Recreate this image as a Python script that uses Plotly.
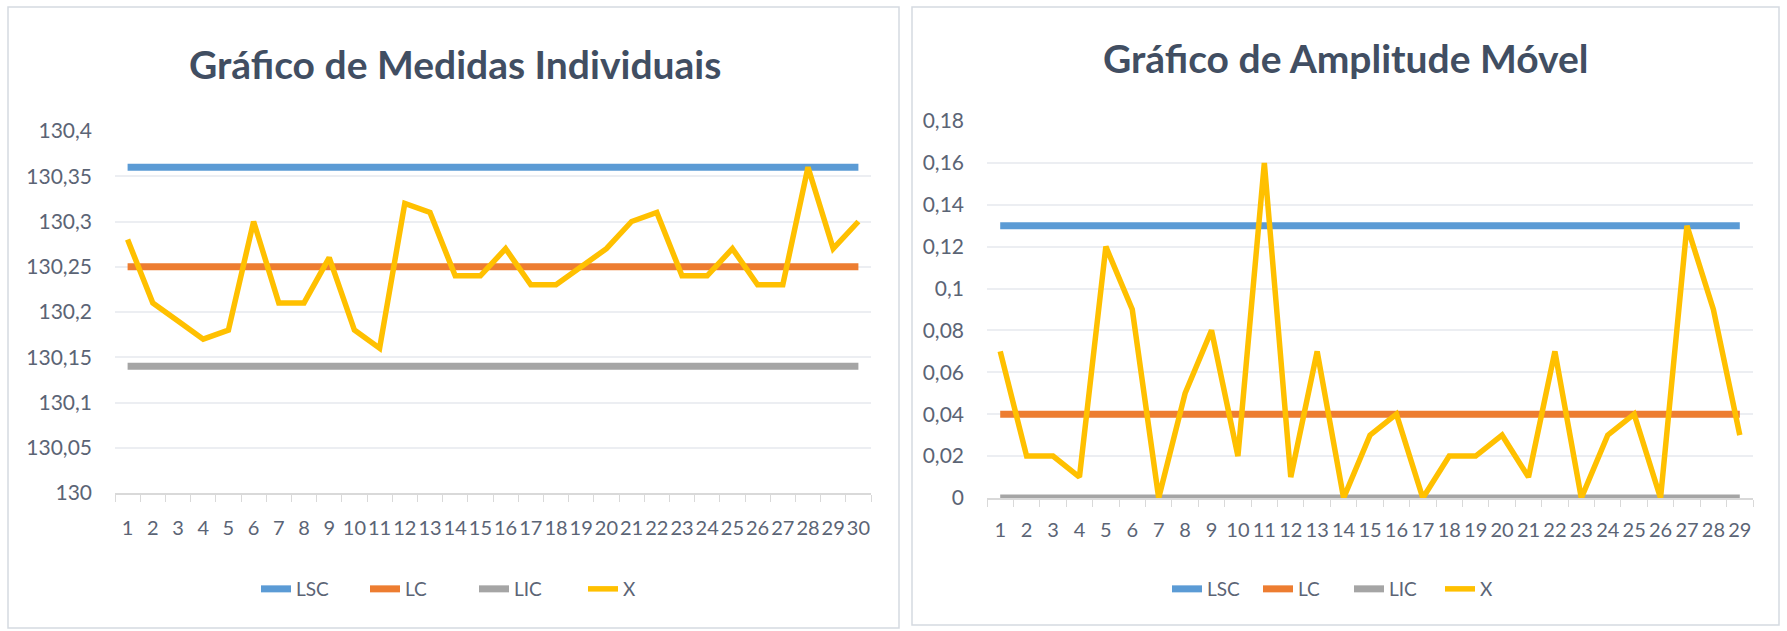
import plotly.graph_objects as go

# ---------------- data ----------------
categories_ind = [str(i) for i in range(1, 31)]
x_individual = [130.28, 130.21, 130.19, 130.17, 130.18, 130.30, 130.21, 130.21, 130.26, 130.18,
                130.16, 130.32, 130.31, 130.24, 130.24, 130.27, 130.23, 130.23, 130.25, 130.27,
                130.30, 130.31, 130.24, 130.24, 130.27, 130.23, 130.23, 130.36, 130.27, 130.30]
lsc_ind = 130.36
lc_ind = 130.25
lic_ind = 130.14

categories_mr = [str(i) for i in range(1, 30)]
x_moving_range = [0.07, 0.02, 0.02, 0.01, 0.12, 0.09, 0.00, 0.05, 0.08, 0.02,
                  0.16, 0.01, 0.07, 0.00, 0.03, 0.04, 0.00, 0.02, 0.02, 0.03,
                  0.01, 0.07, 0.00, 0.03, 0.04, 0.00, 0.13, 0.09, 0.03]
lsc_mr = 0.13
lc_mr = 0.04
lic_mr = 0.0

yticks_ind = [130.0, 130.05, 130.1, 130.15, 130.2, 130.25, 130.3, 130.35, 130.4]
yticklabels_ind = ["130", "130,05", "130,1", "130,15", "130,2", "130,25", "130,3", "130,35", "130,4"]
yticks_mr = [0, 0.02, 0.04, 0.06, 0.08, 0.10, 0.12, 0.14, 0.16, 0.18]
yticklabels_mr = ["0", "0,02", "0,04", "0,06", "0,08", "0,1", "0,12", "0,14", "0,16", "0,18"]

series_names = ["LSC", "LC", "LIC", "X"]
colors = {"LSC": "#5B9BD5", "LC": "#ED7D31", "LIC": "#A5A5A5", "X": "#FFC000"}

# ---------------- figure ----------------
W, H = 1787, 631
FONT = "Lato"
TXT = "#5B6475"
TITLE = "#414E62"
GRID = "#ECEEF2"
AXIS = "#D9D9D9"

fig = go.Figure()

def add_chart(cats, xvals, lsc, lc, lic, xa, ya, legend):
    vals = {"LSC": [lsc] * len(cats), "LC": [lc] * len(cats), "LIC": [lic] * len(cats), "X": xvals}
    for name in series_names:
        fig.add_trace(go.Scatter(
            x=cats, y=vals[name], mode="lines", name=name,
            line=dict(color=colors[name], width=5.5 if name == "X" else 7),
            xaxis=xa, yaxis=ya, legend=legend, hoverinfo="skip",
        ))

add_chart(categories_ind, x_individual, lsc_ind, lc_ind, lic_ind, "x", "y", "legend")
add_chart(categories_mr, x_moving_range, lsc_mr, lc_mr, lic_mr, "x2", "y2", "legend2")

xcommon = dict(type="category", tickmode="linear", dtick=1, tickangle=0, automargin=False,
               showgrid=False, showline=True, linecolor=AXIS, linewidth=1.5,
               ticks="outside", tickson="boundaries", ticklen=7, tickcolor=AXIS,
               tickfont=dict(family=FONT, size=20, color=TXT),
               zeroline=False, fixedrange=True)
ycommon = dict(showgrid=True, gridcolor=GRID, gridwidth=1.5, zeroline=False, automargin=False,
               showline=False, ticks="", tickmode="array",
               tickfont=dict(family=FONT, size=21, color=TXT), ticklabelstandoff=22,
               fixedrange=True)

fig.update_layout(
    width=W, height=H, autosize=False,
    margin=dict(l=0, r=0, t=0, b=0, pad=0, autoexpand=False),
    paper_bgcolor="white", plot_bgcolor="white",
    xaxis=dict(domain=[115 / W, 871 / W], range=[-0.5, 29.5], anchor="y",
               ticklabelstandoff=16, **xcommon),
    yaxis=dict(domain=[1 - 493 / H, 1 - 131 / H], range=[130.0, 130.4], anchor="x",
               tickvals=yticks_ind, ticktext=yticklabels_ind, **ycommon),
    xaxis2=dict(domain=[987 / W, 1753 / W], range=[-0.5, 28.5], anchor="y2",
                ticklabelstandoff=13, **xcommon),
    yaxis2=dict(domain=[1 - 498 / H, 1 - 121 / H], range=[0, 0.18], anchor="x2",
                tickvals=yticks_mr, ticktext=yticklabels_mr, **ycommon),
    legend=dict(orientation="h", x=474 / W, xanchor="center", y=1 - 589 / H, yanchor="middle",
                entrywidth=64, entrywidthmode="pixels",
                font=dict(family=FONT, size=19, color=TXT), bgcolor="rgba(0,0,0,0)"),
    legend2=dict(orientation="h", x=1349 / W, xanchor="center", y=1 - 589 / H, yanchor="middle",
                 entrywidth=46, entrywidthmode="pixels",
                 font=dict(family=FONT, size=19, color=TXT), bgcolor="rgba(0,0,0,0)"),
    showlegend=True,
)

# panel borders
for x0, x1, y0, y1 in [(8, 899, 7, 628), (912, 1779, 7, 625)]:
    fig.add_shape(type="rect", xref="paper", yref="paper",
                  x0=x0 / W, x1=x1 / W, y0=1 - y1 / H, y1=1 - y0 / H,
                  line=dict(color="#D5DAE1", width=1.5), layer="below")

# titles
fig.add_annotation(text="<b>Gráfico de Medidas Individuais</b>", xref="paper", yref="paper",
                   x=455 / W, y=1 - 64 / H, xanchor="center", yanchor="middle", showarrow=False,
                   font=dict(family=FONT, size=39, color=TITLE))
fig.add_annotation(text="<b>Gráfico de Amplitude Móvel</b>", xref="paper", yref="paper",
                   x=1346 / W, y=1 - 58 / H, xanchor="center", yanchor="middle", showarrow=False,
                   font=dict(family=FONT, size=39, color=TITLE))

fig.write_html("out.html", config={"displayModeBar": False},
               post_script="document.body.style.margin='0';document.body.style.overflow='hidden';")
